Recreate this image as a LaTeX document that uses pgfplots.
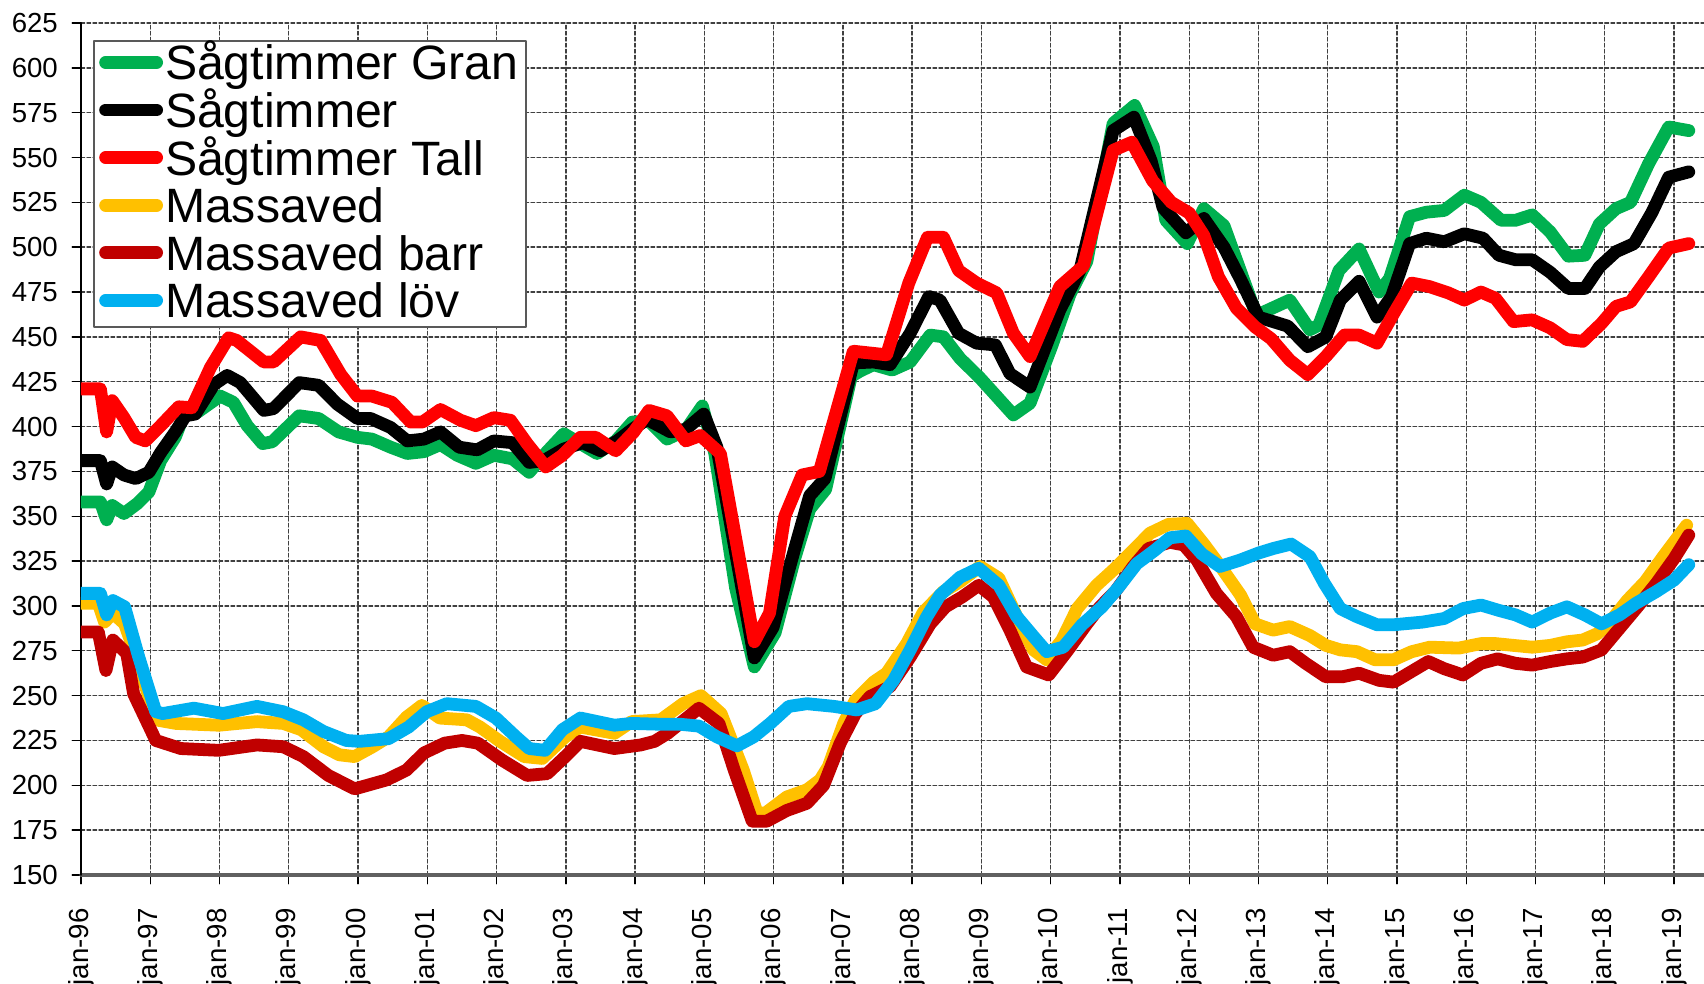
\documentclass[border=0pt]{standalone}
\usepackage{fontspec}
\setmainfont{Liberation Sans}
\usepackage{pgfplots}
\pgfplotsset{compat=1.18}
\definecolor{cgran}{HTML}{00B050}
\definecolor{ctall}{HTML}{FF0000}
\definecolor{cmassa}{HTML}{FFC000}
\definecolor{cbarr}{HTML}{C00000}
\definecolor{clov}{HTML}{00B0F0}
\begin{document}
\begin{tikzpicture}
\path[use as bounding box] (0,0) rectangle (426pt,246pt);
\clip (0,0) rectangle (426pt,246pt);
\begin{axis}[
  at={(20.25pt,27.25pt)}, anchor=south west,
  scale only axis, width=405.75pt, height=213pt,
  xmin=1996, xmax=2019.43, ymin=150, ymax=625,
  xtick={1996,...,2019},
  xticklabels={jan-96,jan-97,jan-98,jan-99,jan-00,jan-01,jan-02,jan-03,jan-04,jan-05,jan-06,jan-07,jan-08,jan-09,jan-10,jan-11,jan-12,jan-13,jan-14,jan-15,jan-16,jan-17,jan-18,jan-19},
  ytick={150,175,...,625},
  /pgf/number format/assume math mode=true,
  axis x line*=bottom, axis y line*=left,
  x axis line style={-, draw=gray!75!black, line width=0.8pt},
  y axis line style={-, draw=black, line width=0.45pt},
  tick align=outside, major tick length=2.2pt,
  tick style={black, line width=0.35pt},
  grid=major,
  major grid style={line width=0.35pt, black!75, dash pattern=on 0.9pt off 0.6pt},
  yticklabel style={font=\fontsize{6.9}{7}\selectfont, anchor=east, inner sep=0pt},
  yticklabel shift=3.4pt,
  xticklabel style={font=\fontsize{6.9}{7}\selectfont, rotate=90, xscale=1.0, anchor=east, inner sep=0pt},
  xticklabel shift=6.0pt,
  line join=round, line cap=round,
  every axis plot/.append style={line width=3.2pt},
  legend cell align=left,
  legend image code/.code={\draw[#1, line cap=round] (0pt,0.6pt) -- (12.75pt,0.6pt); \path[draw=none,fill=none] (-1.5pt,0pt) (9.9pt,1pt);},
  legend style={at={(axis description cs:0.0074,0.98)}, anchor=north west,
    draw=gray!70!black, line width=0.5pt, fill=white,
    font=\fontsize{12.05}{12.05}\selectfont,
    inner xsep=1.3pt, inner ysep=0pt, row sep=0pt,
    nodes={inner xsep=0.5pt, inner ysep=0pt, text height=9.7pt, text depth=2.2pt}},
]
% Sågtimmer Gran
\addplot[cgran] coordinates {
(1996.00,358) (1996.28,358) (1996.37,348) (1996.45,356) (1996.62,351.5) (1996.81,357) (1996.98,363.5)
(1997.15,381) (1997.36,394) (1997.48,406) (1997.68,408) (1998.01,417) (1998.20,413.5) (1998.40,400.5)
(1998.62,390.5) (1998.76,391.5) (1999.15,406) (1999.43,404.5) (1999.72,397) (1999.99,394) (2000.20,393)
(2000.47,388.5) (2000.71,385) (2000.95,386) (2001.19,390) (2001.43,384) (2001.70,379.5) (2001.96,384)
(2002.23,382) (2002.47,374.5) (2002.68,384) (2002.97,396) (2003.21,390.5) (2003.45,385) (2003.72,392)
(2003.96,402.5) (2004.20,403) (2004.46,393) (2004.73,398) (2004.97,411.5) (2005.15,385) (2005.45,310)
(2005.72,266) (2006.02,285) (2006.30,326) (2006.52,354) (2006.75,365) (2007.12,428) (2007.25,431)
(2007.44,434.5) (2007.71,431.5) (2007.97,436) (2008.26,451) (2008.45,450) (2008.69,438) (2008.98,427)
(2009.46,406.5) (2009.70,413) (2010.01,444.5) (2010.28,474) (2010.52,492) (2010.90,569) (2011.21,579)
(2011.48,556) (2011.66,515) (2011.97,502) (2012.21,521.5) (2012.50,512) (2012.97,462) (2013.45,470.5)
(2013.74,454) (2013.87,456.5) (2014.16,487) (2014.45,499) (2014.74,475) (2014.89,482.5) (2015.18,517)
(2015.42,519.5) (2015.68,520.5) (2015.97,529) (2016.21,525) (2016.50,515) (2016.71,515) (2016.95,518)
(2017.21,508.5) (2017.47,495) (2017.71,495.5) (2017.92,513) (2018.16,521.5) (2018.37,525) (2018.63,546.5)
(2018.92,567) (2019.21,565)
};
\addlegendentry{Sågtimmer Gran}
% Sågtimmer
\addplot[black] coordinates {
(1996.00,381) (1996.28,381) (1996.37,368) (1996.45,377.5) (1996.62,373) (1996.79,371) (1996.98,374.5)
(1997.15,385.5) (1997.36,397) (1997.51,406) (1997.65,407) (1997.92,423.5) (1998.11,428.5) (1998.30,424.5)
(1998.64,409) (1998.78,410) (1999.15,424.5) (1999.43,423) (1999.70,412.5) (1999.99,404.5) (2000.18,404.5)
(2000.47,399.5) (2000.71,392) (2000.95,393) (2001.19,397) (2001.46,388.5) (2001.72,387) (2001.96,392)
(2002.23,391) (2002.47,380) (2002.68,381) (2002.97,387.5) (2003.24,391) (2003.50,386.5) (2003.74,392)
(2003.96,398.5) (2004.17,404) (2004.51,397) (2004.73,398.5) (2004.99,407) (2005.18,388.5) (2005.72,271)
(2005.99,288) (2006.30,331.5) (2006.52,361.5) (2006.74,371) (2007.15,435.5) (2007.44,436) (2007.68,434.5)
(2007.97,452) (2008.24,472.5) (2008.40,470.5) (2008.67,452) (2008.93,446.5) (2009.20,445.5) (2009.41,429.5)
(2009.70,422) (2010.13,465) (2010.42,487) (2010.90,565) (2011.20,572.5) (2011.45,548) (2011.62,522)
(2011.95,508) (2012.21,516) (2012.50,500) (2012.74,482) (2013.00,461) (2013.42,456) (2013.71,444.5)
(2013.97,450) (2014.18,470.5) (2014.45,481) (2014.71,461) (2014.92,472.5) (2015.18,502) (2015.42,505)
(2015.68,503) (2015.97,507.5) (2016.24,505) (2016.47,495.5) (2016.71,493) (2016.95,493) (2017.21,486)
(2017.47,477) (2017.71,477) (2017.92,489) (2018.16,497.5) (2018.42,502) (2018.68,519.5) (2018.92,539)
(2019.21,542)
};
\addlegendentry{Sågtimmer}
% Sågtimmer Tall
\addplot[ctall] coordinates {
(1996.00,421) (1996.28,421) (1996.37,397) (1996.45,414.5) (1996.62,405) (1996.79,394) (1996.93,392)
(1997.15,400.5) (1997.41,411) (1997.60,410.5) (1997.87,433) (1998.13,449.5) (1998.25,448) (1998.64,436)
(1998.78,436) (1999.17,450) (1999.46,448) (1999.75,429) (1999.99,417) (2000.20,417) (2000.49,413.5)
(2000.76,402.5) (2000.93,402.5) (2001.19,409.5) (2001.48,403.5) (2001.70,400.5) (2001.96,405) (2002.20,403.5)
(2002.44,390.5) (2002.71,377.5) (2002.95,384) (2003.21,394) (2003.43,394) (2003.72,386.5) (2003.98,397)
(2004.20,409) (2004.46,406) (2004.73,392) (2004.94,395) (2005.23,385) (2005.72,280) (2005.94,296)
(2006.16,350) (2006.41,373) (2006.66,375) (2007.15,442) (2007.63,440) (2007.95,480) (2008.22,505.5)
(2008.45,505.5) (2008.67,487) (2008.93,480) (2009.22,474.5) (2009.46,452) (2009.70,439) (2010.13,478)
(2010.47,489.5) (2010.90,554) (2011.17,558.5) (2011.47,537) (2011.74,525) (2012.00,519) (2012.21,506.5)
(2012.42,483.5) (2012.68,466) (2012.95,455.5) (2013.18,449) (2013.45,437) (2013.71,429) (2013.97,439)
(2014.24,451) (2014.45,451) (2014.71,446.5) (2014.95,463) (2015.21,480) (2015.47,478) (2015.74,474.5)
(2015.97,470.5) (2016.21,475) (2016.42,471.5) (2016.68,458.5) (2016.95,459.5) (2017.21,455) (2017.45,448.5)
(2017.68,447.5) (2017.95,457.5) (2018.16,467) (2018.37,469.5) (2018.63,483.5) (2018.92,499.5) (2019.21,502)
};
\addlegendentry{Sågtimmer Tall}
% Massaved
\addplot[cmassa] coordinates {
(1996.00,301.5) (1996.25,301.5) (1996.34,291) (1996.46,296) (1996.63,290) (1996.83,268) (1997.08,236.5)
(1997.37,234.5) (1997.99,233.5) (1998.54,235.5) (1998.92,234.5) (1999.18,231) (1999.50,221.5) (1999.73,217)
(1999.95,216) (2000.21,221.5) (2000.44,227) (2000.70,238) (2000.92,244.5) (2001.18,237.5) (2001.57,236.5)
(2001.76,232.5) (2002.05,224.5) (2002.40,216) (2002.66,215) (2002.99,227) (2003.21,232.5) (2003.70,229)
(2003.95,235.5) (2004.37,236.5) (2004.69,245.5) (2004.95,250) (2005.24,240) (2005.56,208.5) (2005.76,184.5)
(2005.88,184.5) (2006.19,193.5) (2006.48,197.5) (2006.67,203) (2006.79,210.5) (2007.01,234.5) (2007.18,247.5)
(2007.44,257.5) (2007.63,262.5) (2007.92,279) (2008.16,296.5) (2008.45,308) (2008.69,313.5) (2008.98,322)
(2009.25,315.5) (2009.51,294) (2009.75,275.5) (2009.94,270) (2010.16,281) (2010.38,298.5) (2010.66,311.5)
(2010.93,321) (2011.19,331) (2011.43,340.5) (2011.70,345.5) (2011.97,346) (2012.21,334.5) (2012.45,322)
(2012.74,306) (2012.95,290) (2013.21,286.5) (2013.45,288.5) (2013.74,283.5) (2013.97,278) (2014.18,275.5)
(2014.42,274.5) (2014.68,270) (2014.95,270) (2015.21,274.5) (2015.47,277) (2015.89,276.5) (2016.21,279)
(2016.42,279) (2016.68,278) (2016.95,277) (2017.21,278) (2017.45,280) (2017.68,281) (2017.89,284.5)
(2018.05,290) (2018.32,303) (2018.58,313.5) (2018.84,327.5) (2019.18,345)
};
\addlegendentry{Massaved}
% Massaved barr
\addplot[cbarr] coordinates {
(1996.00,285.5) (1996.25,285.5) (1996.36,264) (1996.46,281) (1996.66,273.5) (1996.76,251) (1997.08,225)
(1997.44,220.5) (1997.99,219.5) (1998.54,222.5) (1998.92,221.5) (1999.21,216) (1999.57,205.5) (1999.95,198)
(2000.41,203) (2000.70,208.5) (2000.95,218) (2001.25,223.5) (2001.50,225) (2001.73,223.5) (2002.08,214)
(2002.44,205.5) (2002.73,206.5) (2002.99,216) (2003.21,224.5) (2003.70,220.5) (2004.08,222.5) (2004.28,224.5)
(2004.47,229) (2004.92,243) (2005.21,234.5) (2005.43,208.5) (2005.69,180) (2005.90,180) (2006.19,186)
(2006.48,190) (2006.72,200) (2006.96,223.5) (2007.18,240) (2007.39,249.5) (2007.68,255) (2007.97,271.5)
(2008.26,290) (2008.48,299.5) (2008.72,305) (2008.96,311.5) (2009.17,305) (2009.41,286.5) (2009.65,266)
(2009.97,261.5) (2010.25,275.5) (2010.52,290) (2010.71,299.5) (2010.93,308) (2011.19,322) (2011.41,332)
(2011.72,335.5) (2011.92,334) (2012.11,325.5) (2012.39,307) (2012.68,294) (2012.92,277) (2013.21,272.5)
(2013.45,274.5) (2013.68,268) (2013.97,260.5) (2014.21,260.5) (2014.45,262.5) (2014.74,258.5) (2014.95,257.5)
(2015.21,263.5) (2015.45,269) (2015.68,265) (2015.95,261.5) (2016.21,268) (2016.45,270.5) (2016.71,268)
(2016.95,267) (2017.21,269) (2017.45,270.5) (2017.68,271.5) (2017.95,275.5) (2018.21,287.5) (2018.47,299.5)
(2018.74,312.5) (2019.00,326.5) (2019.21,339.5)
};
\addlegendentry{Massaved barr}
% Massaved löv
\addplot[clov] coordinates {
(1996.00,307) (1996.28,307) (1996.37,295) (1996.46,303) (1996.63,299.5) (1996.83,272) (1997.08,241)
(1997.18,240) (1997.63,243) (1998.05,240) (1998.54,244) (1998.92,241) (1999.21,236.5) (1999.50,230)
(1999.83,225) (2000.02,224.5) (2000.44,226) (2000.73,232.5) (2000.99,241) (2001.28,245.5) (2001.70,244)
(2001.99,237.5) (2002.28,227) (2002.47,220.5) (2002.70,219.5) (2002.95,231) (2003.21,237.5) (2003.70,233.5)
(2003.95,234.5) (2004.40,234) (2004.66,234) (2004.92,233) (2005.18,227) (2005.47,222) (2005.71,227)
(2005.95,234.5) (2006.22,244) (2006.48,245.5) (2006.87,244) (2007.20,242) (2007.47,245.5) (2007.73,258.5)
(2007.97,275.5) (2008.21,294) (2008.40,306) (2008.69,316) (2008.96,321) (2009.25,311.5) (2009.51,294)
(2009.75,283) (2009.94,274.5) (2010.18,277) (2010.45,289.5) (2010.74,299.5) (2010.98,310.5) (2011.24,323.5)
(2011.50,331) (2011.72,338) (2011.95,339) (2012.18,329) (2012.44,322) (2012.73,325.5) (2013.00,329.5)
(2013.21,332) (2013.47,334.5) (2013.74,327.5) (2013.95,312.5) (2014.18,298.5) (2014.42,294) (2014.71,289.5)
(2014.95,289.5) (2015.37,291) (2015.68,293) (2015.95,298.5) (2016.21,300.5) (2016.47,297.5) (2016.71,295)
(2016.95,291) (2017.21,296) (2017.45,299.5) (2017.71,295) (2017.95,290) (2018.21,295) (2018.45,301.5)
(2018.74,308) (2019.00,314.5) (2019.21,323)
};
\addlegendentry{Massaved löv}
\end{axis}
\end{tikzpicture}
\end{document}
